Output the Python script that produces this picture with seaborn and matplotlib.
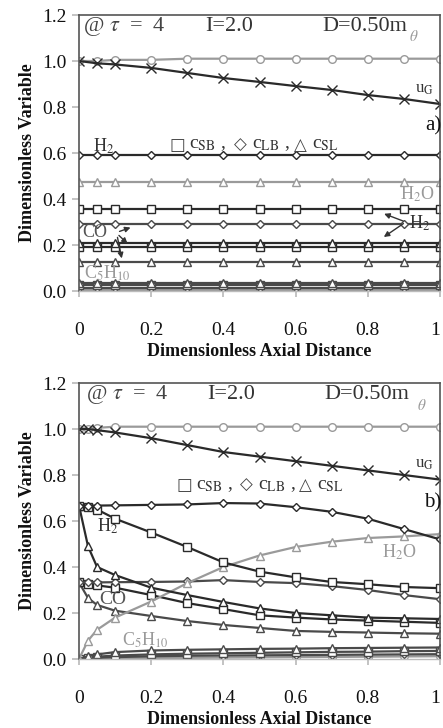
import numpy as np
import pandas as pd
import matplotlib
matplotlib.use("Agg")
import matplotlib.pyplot as plt
import seaborn as sns

# ---------------- data ----------------
x_a = [0, 0.05, 0.1, 0.2, 0.3, 0.4, 0.5, 0.6, 0.7, 0.8, 0.9, 1.0]
x_b = [0, 0.025, 0.05, 0.1, 0.2, 0.3, 0.4, 0.5, 0.6, 0.7, 0.8, 0.9, 1.0]

# panel a (flat profiles)
a_theta = [1.0, 1.0, 1.005, 1.005, 1.01, 1.01, 1.01, 1.01, 1.01, 1.01, 1.01, 1.01]
a_uG = [1.0, 0.99, 0.985, 0.97, 0.948, 0.926, 0.909, 0.891, 0.874, 0.852, 0.835, 0.813]
a_H2_LB = [0.59] * 12
a_H2O_SL = [0.475] * 12
a_H2_SB = [0.355] * 12
a_CO_LB = [0.29] * 12
a_H2_SL = [0.21] * 12
a_CO_SB = [0.19] * 12
a_CO_SL = [0.125] * 12
a_low1 = [0.035] * 12
a_low2 = [0.025] * 12
a_low3 = [0.015] * 12
a_low4 = [0.005] * 12

# panel b
b_theta = [1.0, 1.0, 1.005, 1.01, 1.01, 1.01, 1.01, 1.01, 1.01, 1.01, 1.01, 1.01, 1.01]
b_uG = [1.0, 1.0, 0.995, 0.985, 0.96, 0.93, 0.90, 0.88, 0.86, 0.84, 0.82, 0.80, 0.78]
b_H2_LB = [0.667, 0.667, 0.667, 0.668, 0.67, 0.672, 0.678, 0.676, 0.66, 0.64, 0.61, 0.565, 0.52]
b_H2_SB = [0.667, 0.66, 0.65, 0.61, 0.55, 0.487, 0.42, 0.38, 0.355, 0.335, 0.325, 0.313, 0.308]
b_H2_SL = [0.667, 0.49, 0.40, 0.365, 0.31, 0.278, 0.248, 0.22, 0.20, 0.19, 0.18, 0.177, 0.174]
b_H2O_SL = [0.0, 0.08, 0.127, 0.18, 0.25, 0.33, 0.40, 0.45, 0.487, 0.51, 0.526, 0.533, 0.543]
b_CO_LB = [0.333, 0.333, 0.333, 0.334, 0.335, 0.337, 0.343, 0.335, 0.33, 0.317, 0.30, 0.278, 0.26]
b_CO_SB = [0.333, 0.328, 0.32, 0.31, 0.278, 0.243, 0.217, 0.19, 0.18, 0.172, 0.167, 0.162, 0.157]
b_CO_SL = [0.333, 0.265, 0.235, 0.21, 0.187, 0.165, 0.148, 0.135, 0.122, 0.118, 0.115, 0.112, 0.11]
b_low1 = [0.0, 0.012, 0.02, 0.03, 0.037, 0.04, 0.042, 0.044, 0.045, 0.047, 0.048, 0.049, 0.05]
b_low2 = [0.0, 0.005, 0.01, 0.015, 0.02, 0.023, 0.025, 0.027, 0.029, 0.031, 0.032, 0.034, 0.035]
b_low3 = [0.0, 0.003, 0.005, 0.008, 0.012, 0.014, 0.015, 0.016, 0.017, 0.018, 0.019, 0.02, 0.021]
b_low4 = [0.0, 0.001, 0.002, 0.003, 0.004, 0.005, 0.006, 0.007, 0.008, 0.009, 0.01, 0.011, 0.012]

x_ticks = [0, 0.2, 0.4, 0.6, 0.8, 1.0]
x_ticklabels = ["0", "0.2", "0.4", "0.6", "0.8", "1"]
y_ticks = [0.0, 0.2, 0.4, 0.6, 0.8, 1.0, 1.2]

legend_symbols = ["□", "◇", "△"]
legend_labels = [r"c$_{\rm SB}$ ,", r"c$_{\rm LB}$ ,", r"c$_{\rm SL}$"]

DARK = "#2a2a2a"
MID = "#4a4a4a"
LIGHT = "#9a9a9a"

# ---------------- style ----------------
sns.set_theme(style="white")
plt.rcParams["font.family"] = ["Liberation Serif", "DejaVu Sans"]
plt.rcParams["mathtext.fontset"] = "stix"

fig = plt.figure(figsize=(4.43, 7.28), dpi=100)
ax_a = fig.add_axes([79 / 443, (728 - 291) / 728, 361 / 443, 276 / 728])
ax_b = fig.add_axes([79 / 443, (728 - 659) / 728, 361 / 443, 276 / 728])


def draw(ax, x, y, marker, color, lw=1.6, ms=5):
    sns.lineplot(x=x, y=y, ax=ax, color=color, linewidth=lw, marker=marker,
                 markersize=ms, markerfacecolor="white", markeredgecolor=color,
                 markeredgewidth=1.0, sort=False, legend=False)


series_a = [
    (a_low4, "o", LIGHT), (a_low3, "D", MID), (a_low2, "s", MID), (a_low1, "^", MID),
    (a_CO_SL, "^", MID), (a_CO_SB, "s", DARK), (a_H2_SL, "^", DARK),
    (a_CO_LB, "D", MID), (a_H2_SB, "s", DARK), (a_H2O_SL, "^", LIGHT),
    (a_H2_LB, "D", DARK), (a_theta, "o", LIGHT), (a_uG, "x", DARK),
]
series_b = [
    (b_low4, "o", LIGHT), (b_low3, "D", MID), (b_low2, "s", MID), (b_low1, "^", MID),
    (b_CO_SL, "^", MID), (b_CO_SB, "s", DARK), (b_CO_LB, "D", MID),
    (b_H2O_SL, "^", LIGHT), (b_H2_SL, "^", DARK), (b_H2_SB, "s", DARK),
    (b_H2_LB, "D", DARK), (b_theta, "o", LIGHT), (b_uG, "x", DARK),
]

for ax, xs, series in [(ax_a, x_a, series_a), (ax_b, x_b, series_b)]:
    for y, m, c in series:
        ms = 4 if m == "D" else (7 if m == "x" else 5.5)
        draw(ax, xs, y, m, c, ms=ms)
    ax.set_xlim(0, 1)
    ax.set_ylim(0, 1.2)
    ax.set_xticks(x_ticks)
    ax.set_xticklabels(x_ticklabels)
    ax.get_xticklabels()[-1].set_horizontalalignment("right")
    ax.set_yticks(y_ticks)
    ax.set_yticklabels([f"{v:.1f}" for v in y_ticks])
    ax.tick_params(axis="x", which="both", direction="out", length=4, color="#bbbbbb",
                   pad=18, labelsize=14, labelcolor="#111111", bottom=True)
    ax.tick_params(axis="y", which="both", direction="out", length=5, color="#bbbbbb",
                   pad=4, labelsize=14, labelcolor="#111111", left=True)
    for s in ["left", "top", "right"]:
        ax.spines[s].set_color("#555555")
        ax.spines[s].set_linewidth(1.2)
    ax.spines["bottom"].set_color("#bbbbbb")
    ax.spines["bottom"].set_linewidth(1.0)
    ax.set_xlabel("Dimensionless Axial Distance", fontsize=13, fontweight="bold",
                  labelpad=3, color="#111111")
    ax.set_ylabel("Dimensionless Variable", fontsize=13, fontweight="bold",
                  labelpad=4, color="#111111")
    ax.patch.set_alpha(0)

tfs = 16
arrow_kw = dict(arrowstyle="-|>", color="#333333", lw=1.0, mutation_scale=8)


def legend_line(ax, xs_sym, xs_lab, y):
    for sym, xv in zip(legend_symbols, xs_sym):
        ax.text(xv, y, sym, fontsize=12, color="#444444", va="center",
                family=["DejaVu Sans"])
    for lab, xv in zip(legend_labels, xs_lab):
        ax.text(xv, y, lab, fontsize=14, color="#333333", va="center")


# panel a annotations
ax_a.text(0.01, 1.15, r"@ $\tau$  =  4", fontsize=tfs, color="#444444", va="center")
ax_a.text(0.35, 1.15, "I=2.0", fontsize=tfs, color="#333333", va="center")
ax_a.text(0.675, 1.15, "D=0.50m", fontsize=tfs, color="#333333", va="center")
ax_a.text(0.915, 1.105, r"$\theta$", fontsize=11, color=LIGHT, va="center")
ax_a.text(0.93, 0.88, r"u$_{\rm G}$", fontsize=12, color="#333333", va="center")
ax_a.text(0.96, 0.72, "a)", fontsize=15, color="#111111", va="center")
ax_a.text(0.04, 0.63, r"H$_2$", fontsize=13, color="#333333", va="center")
legend_line(ax_a, [0.25, 0.43, 0.595], [0.305, 0.48, 0.645], 0.635)
ax_a.text(0.89, 0.42, r"H$_2$O", fontsize=13, color=LIGHT, va="center")
ax_a.text(0.915, 0.295, r"H$_2$", fontsize=13, color="#333333", va="center")
ax_a.annotate("", xy=(0.838, 0.34), xytext=(0.905, 0.30), arrowprops=arrow_kw)
ax_a.annotate("", xy=(0.838, 0.228), xytext=(0.905, 0.30), arrowprops=arrow_kw)
ax_a.text(0.01, 0.253, "CO", fontsize=13, color="#555555", va="center")
ax_a.annotate("", xy=(0.15, 0.28), xytext=(0.105, 0.255), arrowprops=arrow_kw)
ax_a.annotate("", xy=(0.14, 0.198), xytext=(0.105, 0.25), arrowprops=arrow_kw)
ax_a.annotate("", xy=(0.12, 0.13), xytext=(0.105, 0.245), arrowprops=arrow_kw)
ax_a.text(0.015, 0.075, r"C$_5$H$_{10}$", fontsize=13, color=LIGHT, va="center")

# panel b annotations
ax_b.text(0.02, 1.15, r"@ $\tau$  =  4", fontsize=tfs, color="#444444", va="center")
ax_b.text(0.355, 1.15, "I=2.0", fontsize=tfs, color="#333333", va="center")
ax_b.text(0.68, 1.15, "D=0.50m", fontsize=tfs, color="#333333", va="center")
ax_b.text(0.935, 1.10, r"$\theta$", fontsize=11, color=LIGHT, va="center")
ax_b.text(0.93, 0.85, r"u$_{\rm G}$", fontsize=12, color="#333333", va="center")
ax_b.text(0.955, 0.68, "b)", fontsize=15, color="#111111", va="center")
legend_line(ax_b, [0.27, 0.445, 0.61], [0.325, 0.495, 0.66], 0.755)
ax_b.text(0.05, 0.575, r"H$_2$", fontsize=13, color="#333333", va="center")
ax_b.text(0.84, 0.465, r"H$_2$O", fontsize=13, color=LIGHT, va="center")
ax_b.text(0.055, 0.26, "CO", fontsize=14, color="#555555", va="center")
ax_b.text(0.12, 0.08, r"C$_5$H$_{10}$", fontsize=13, color=LIGHT, va="center")

fig.savefig("out.png", dpi=100)
